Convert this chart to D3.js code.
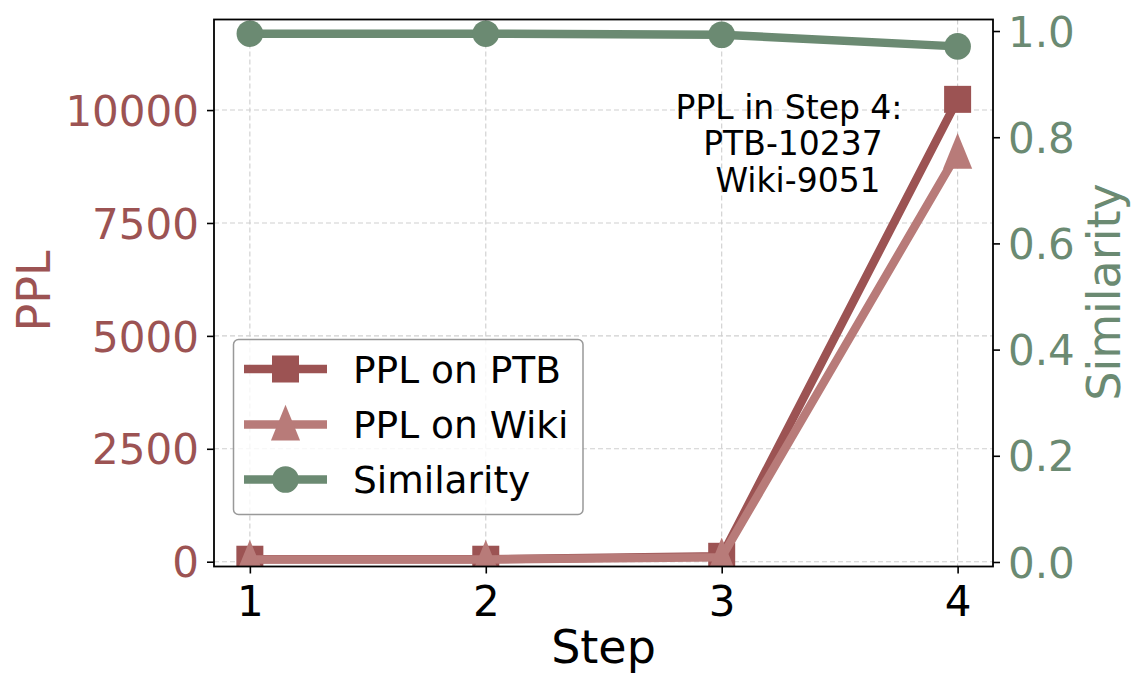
<!DOCTYPE html>
<html>
<head>
<meta charset="utf-8">
<script src="https://cdn.jsdelivr.net/npm/d3@7"></script>
<style>
  html, body { margin: 0; padding: 0; background: #fff; }
  svg { display: block; font-family: "DejaVu Sans", sans-serif; }
</style>
</head>
<body>
<svg id="chart" width="1142" height="689"></svg>
<script>
// ---- data ----
const steps = [1, 2, 3, 4];
const pplPTB = [55, 55, 120, 10237];
const pplWiki = [50, 50, 100, 9051];
const similarity = [0.995, 0.995, 0.993, 0.971];
const leftTicks = [0, 2500, 5000, 7500, 10000];
const rightTicks = [0.0, 0.2, 0.4, 0.6, 0.8, 1.0];
const seriesNames = ["PPL on PTB", "PPL on Wiki", "Similarity"];
const annotationLines = ["PPL in Step 4:", "PTB-10237", "Wiki-9051"];

// ---- styles ----
const cPTB = "#9c5353", cWiki = "#b87b79", cSim = "#6b8a72";
const L = 214, R = 993, T = 19.5, B = 566.5;
const tickFs = 42, labelFs = 46, legendFs = 37.5, annFs = 33;
const annOffsets = [-4, 0, 5];

const svg = d3.select("#chart");
const x = d3.scaleLinear().domain([0.848, 4.15]).range([L, R]);
const yL = d3.scaleLinear().domain([-106, 12005]).range([B, T]);
const yR = d3.scaleLinear().domain([-0.0085, 1.0217]).range([B, T]);

// clip
svg.append("defs").append("clipPath").attr("id", "clip")
  .append("rect").attr("x", L).attr("y", T).attr("width", R - L).attr("height", B - T);

// grid
const grid = svg.append("g").attr("stroke", "#cfcfcf").attr("stroke-width", 1.1).attr("stroke-dasharray", "5,3");
grid.selectAll(".gx").data(steps).join("line")
  .attr("x1", d => x(d)).attr("x2", d => x(d)).attr("y1", T).attr("y2", B);
grid.selectAll(".gy").data(leftTicks).join("line")
  .attr("x1", L).attr("x2", R).attr("y1", d => yL(d)).attr("y2", d => yL(d));

// markers
function triPath(s) {
  const w = s * 0.53, up = s * 0.72, dn = s * 0.58;
  return `M0,${-up}L${w},${dn}L${-w},${dn}Z`;
}
function drawMarker(g, type, cx, cy, color) {
  if (type === "square") {
    g.append("rect").attr("x", cx - 13.5).attr("y", cy - 13.5).attr("width", 27).attr("height", 27).attr("fill", color);
  } else if (type === "tri") {
    g.append("path").attr("d", triPath(27.5)).attr("transform", `translate(${cx},${cy})`).attr("fill", color);
  } else {
    g.append("circle").attr("cx", cx).attr("cy", cy).attr("r", 13.3).attr("fill", color);
  }
}

const plot = svg.append("g").attr("clip-path", "url(#clip)");
function series(vals, yScale, color, type) {
  const line = d3.line().x((d, i) => x(steps[i])).y(d => yScale(d));
  const g = plot.append("g");
  g.append("path").datum(vals).attr("d", line).attr("fill", "none")
    .attr("stroke", color).attr("stroke-width", 8.5)
    .attr("stroke-linejoin", "round").attr("stroke-linecap", "square");
  vals.forEach((v, i) => drawMarker(g, type, x(steps[i]), yScale(v), color));
}
series(pplPTB, yL, cPTB, "square");
series(pplWiki, yL, cWiki, "tri");
series(similarity, yR, cSim, "circle");

// axes
function styleAxis(g, color) {
  g.select(".domain").remove();
  g.selectAll(".tick line").attr("stroke", "#000").attr("stroke-width", 1.6);
  g.selectAll(".tick text").attr("fill", color).style("font-size", tickFs + "px")
    .style("font-family", "DejaVu Sans, sans-serif");
}
const ax = svg.append("g").attr("transform", `translate(0,${B})`)
  .call(d3.axisBottom(x).tickValues(steps).tickFormat(d3.format("d")).tickSize(7).tickPadding(9));
styleAxis(ax, "#000");
ax.selectAll(".tick text").attr("dy", null).attr("y", 49);

const ayL = svg.append("g").attr("transform", `translate(${L},0)`)
  .call(d3.axisLeft(yL).tickValues(leftTicks).tickFormat(d3.format("d")).tickSize(7).tickPadding(8));
styleAxis(ayL, cPTB);
ayL.selectAll(".tick text").attr("dy", "0.36em");

const ayR = svg.append("g").attr("transform", `translate(${R},0)`)
  .call(d3.axisRight(yR).tickValues(rightTicks).tickFormat(d3.format(".1f")).tickSize(7).tickPadding(8));
styleAxis(ayR, cSim);
ayR.selectAll(".tick text").attr("dy", "0.36em");

// spines
svg.append("rect").attr("x", L).attr("y", T).attr("width", R - L).attr("height", B - T)
  .attr("fill", "none").attr("stroke", "#000").attr("stroke-width", 1.8);

// axis labels
svg.append("text").attr("x", (L + R) / 2).attr("y", 663).attr("text-anchor", "middle")
  .style("font-size", labelFs + "px").attr("fill", "#000").text("Step");
svg.append("text").attr("transform", `translate(50,291) rotate(-90)`).attr("text-anchor", "middle")
  .style("font-size", labelFs + "px").attr("fill", cPTB).text("PPL");
svg.append("text").attr("transform", `translate(1120,292) rotate(-90)`).attr("text-anchor", "middle")
  .style("font-size", labelFs + "px").attr("fill", cSim).text("Similarity");

// annotation
const ann = svg.append("text").attr("text-anchor", "middle").style("font-size", annFs + "px").attr("fill", "#000");
annotationLines.forEach((t, i) => {
  ann.append("tspan").attr("x", 793 + annOffsets[i]).attr("y", 119 + i * 36.3).text(t);
});

// legend
const lg = svg.append("g");
lg.append("rect").attr("x", 233.5).attr("y", 339.5).attr("width", 349.5).attr("height", 175)
  .attr("rx", 5).attr("fill", "#fff").attr("fill-opacity", 0.8).attr("stroke", "#999").attr("stroke-width", 1.5);
const legendColors = [cPTB, cWiki, cSim];
const legendTypes = ["square", "tri", "circle"];
const rowY = [369, 424.5, 479.5];
seriesNames.forEach((name, i) => {
  const y = rowY[i];
  lg.append("line").attr("x1", 244).attr("x2", 327).attr("y1", y).attr("y2", y)
    .attr("stroke", legendColors[i]).attr("stroke-width", 8.5);
  drawMarker(lg, legendTypes[i], 285.5, y, legendColors[i]);
  lg.append("text").attr("x", 353).attr("y", y + 0.3645 * legendFs)
    .style("font-size", legendFs + "px").attr("fill", "#000").text(name);
});
</script>
</body>
</html>
